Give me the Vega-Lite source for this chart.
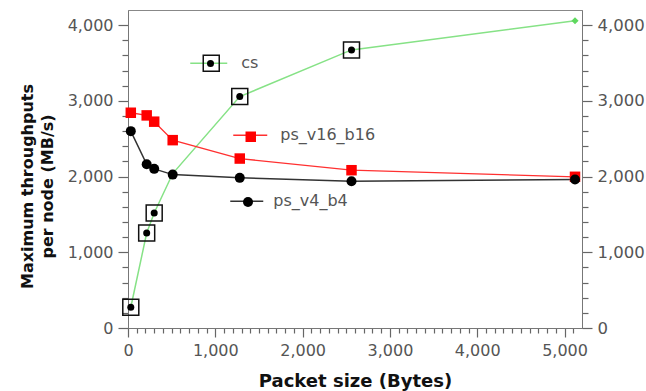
{
  "$schema": "https://vega.github.io/schema/vega-lite/v6.json",
  "autosize": "none",
  "padding": {"left": 128, "top": 10, "right": 64, "bottom": 63},
  "width": 454,
  "height": 318,
  "background": "white",
  "data": {
    "values": [
      {"series": "cs", "size": 32, "tput": 274},
      {"series": "cs", "size": 214, "tput": 1254},
      {"series": "cs", "size": 300, "tput": 1519},
      {"series": "cs", "size": 512, "tput": 2040},
      {"series": "cs", "size": 1280, "tput": 3056},
      {"series": "cs", "size": 2560, "tput": 3673},
      {"series": "cs", "size": 5120, "tput": 4057},
      {"series": "ps_v16_b16", "size": 32, "tput": 2843},
      {"series": "ps_v16_b16", "size": 214, "tput": 2808},
      {"series": "ps_v16_b16", "size": 300, "tput": 2725},
      {"series": "ps_v16_b16", "size": 512, "tput": 2481},
      {"series": "ps_v16_b16", "size": 1280, "tput": 2238},
      {"series": "ps_v16_b16", "size": 2560, "tput": 2084},
      {"series": "ps_v16_b16", "size": 5120, "tput": 1997},
      {"series": "ps_v4_b4", "size": 32, "tput": 2600},
      {"series": "ps_v4_b4", "size": 214, "tput": 2163},
      {"series": "ps_v4_b4", "size": 300, "tput": 2102},
      {"series": "ps_v4_b4", "size": 512, "tput": 2026},
      {"series": "ps_v4_b4", "size": 1280, "tput": 1983},
      {"series": "ps_v4_b4", "size": 2560, "tput": 1939},
      {"series": "ps_v4_b4", "size": 5120, "tput": 1961}
    ]
  },
  "resolve": {
    "scale": {"color": "independent"},
    "legend": {"color": "independent"},
    "axis": {"x": "independent", "y": "independent"}
  },
  "layer": [
    {
      "transform": [{"filter": "datum.series === 'cs'"}],
      "mark": {"type": "line", "strokeWidth": 1.5},
      "encoding": {
        "x": {
          "field": "size", "type": "quantitative",
          "scale": {"domain": [0, 5200], "nice": false, "zero": false},
          "axis": {
            "orient": "bottom",
            "title": "Packet size (Bytes)",
            "titleFontSize": 18,
            "tickCount": 200,
            "values": [0,100,200,300,400,500,600,700,800,900,1000,1100,1200,1300,1400,1500,1600,1700,1800,1900,2000,2100,2200,2300,2400,2500,2600,2700,2800,2900,3000,3100,3200,3300,3400,3500,3600,3700,3800,3900,4000,4100,4200,4300,4400,4500,4600,4700,4800,4900,5000,5100],
            "labelExpr": "datum.value % 1000 === 0 ? format(datum.value, ',d') : ''",
            "tickSize": {"condition": {"test": "datum.value % 1000 === 0", "value": 9}, "value": 5},
            "labelPadding": 5,
            "labelFlush": false,
            "labelOverlap": false,
            "titlePadding": 14
          }
        },
        "y": {
          "field": "tput", "type": "quantitative",
          "scale": {"domain": [0, 4200], "nice": false, "zero": false},
          "axis": {
            "orient": "left",
            "title": ["Maximum throughputs", "per node (MB/s)"],
            "titleFontSize": 16,
            "titleLineHeight": 20,
            "titleY": 176,
            "tickCount": 200,
            "values": [0,200,400,600,800,1000,1200,1400,1600,1800,2000,2200,2400,2600,2800,3000,3200,3400,3600,3800,4000],
            "labelExpr": "datum.value % 1000 === 0 ? format(datum.value, ',d') : ''",
            "tickSize": {"condition": {"test": "datum.value % 1000 === 0", "value": 10}, "value": 6},
            "labelPadding": 5,
            "labelFlush": false,
            "labelOverlap": false,
            "titlePadding": 12
          }
        },
        "color": {
          "field": "series", "type": "nominal",
          "scale": {"domain": ["cs"], "range": ["#86e286"]},
          "legend": {
            "orient": "none", "legendX": 61.25, "legendY": 33.75, "title": null,
            "symbolType": "stroke", "symbolSize": 1369, "symbolStrokeWidth": 1.5,
            "labelOffset": 13, "labelFontSize": 16, "labelColor": "#555", "padding": 0
          }
        }
      }
    },
    {
      "transform": [{"filter": "datum.series === 'ps_v16_b16'"}],
      "mark": {"type": "line", "strokeWidth": 1.3},
      "encoding": {
        "x": {"field": "size", "type": "quantitative", "scale": {"domain": [0, 5200], "nice": false, "zero": false}, "axis": null},
        "y": {
          "field": "tput", "type": "quantitative",
          "scale": {"domain": [0, 4200], "nice": false, "zero": false},
          "axis": {
            "orient": "right",
            "title": null,
            "tickCount": 200,
            "values": [0,200,400,600,800,1000,1200,1400,1600,1800,2000,2200,2400,2600,2800,3000,3200,3400,3600,3800,4000],
            "labelExpr": "datum.value % 1000 === 0 ? format(datum.value, ',d') : ''",
            "tickSize": {"condition": {"test": "datum.value % 1000 === 0", "value": 10}, "value": 6},
            "labelPadding": 5,
            "labelFontSize": 16.5,
            "labelFlush": false,
            "labelOverlap": false
          }
        },
        "color": {
          "field": "series", "type": "nominal",
          "scale": {"domain": ["ps_v16_b16"], "range": ["#ff3030"]},
          "legend": {
            "orient": "none", "legendX": 104.25, "legendY": 107.25, "title": null,
            "symbolType": "stroke", "symbolSize": 1156, "symbolStrokeWidth": 1.5,
            "labelOffset": 12, "labelFontSize": 16, "labelColor": "#555", "padding": 0
          }
        }
      }
    },
    {
      "transform": [{"filter": "datum.series === 'ps_v4_b4'"}],
      "mark": {"type": "line", "strokeWidth": 1.5},
      "encoding": {
        "x": {"field": "size", "type": "quantitative", "axis": null},
        "y": {"field": "tput", "type": "quantitative", "axis": null},
        "color": {
          "field": "series", "type": "nominal",
          "scale": {"domain": ["ps_v4_b4"], "range": ["#333333"]},
          "legend": {
            "orient": "none", "legendX": 101.25, "legendY": 173.75, "title": null,
            "symbolType": "stroke", "symbolSize": 1089, "symbolStrokeWidth": 1.5,
            "labelOffset": 9, "labelFontSize": 16, "labelColor": "#555", "padding": 0
          }
        }
      }
    },
    {
      "transform": [{"filter": "datum.series === 'cs' && datum.size !== 512 && datum.size !== 5120"}],
      "mark": {"type": "point", "shape": "square", "filled": false, "size": 256, "strokeWidth": 1.5, "opacity": 1},
      "encoding": {
        "x": {"field": "size", "type": "quantitative", "axis": null},
        "y": {"field": "tput", "type": "quantitative", "axis": null},
        "color": {
          "field": "series", "type": "nominal",
          "scale": {"domain": ["cs"], "range": ["#111111"]},
          "legend": {
            "orient": "none", "legendX": 74.25, "legendY": 44.25, "title": null,
            "symbolType": "square", "symbolSize": 256, "symbolStrokeWidth": 1.5,
            "labelExpr": "''", "padding": 0
          }
        }
      }
    },
    {
      "transform": [{"filter": "datum.series === 'cs' && datum.size !== 512 && datum.size !== 5120"}],
      "mark": {"type": "point", "shape": "circle", "filled": true, "size": 49, "opacity": 1},
      "encoding": {
        "x": {"field": "size", "type": "quantitative", "axis": null},
        "y": {"field": "tput", "type": "quantitative", "axis": null},
        "color": {
          "field": "series", "type": "nominal",
          "scale": {"domain": ["cs"], "range": ["#000000"]},
          "legend": {
            "orient": "none", "legendX": 74.5, "legendY": 45.5, "title": null,
            "symbolType": "circle", "symbolSize": 49, "symbolStrokeWidth": 0,
            "labelExpr": "''", "padding": 0
          }
        }
      }
    },
    {
      "transform": [{"filter": "datum.series === 'cs' && datum.size === 5120"}],
      "mark": {"type": "point", "shape": "diamond", "filled": true, "size": 50, "opacity": 1},
      "encoding": {
        "x": {"field": "size", "type": "quantitative", "axis": null},
        "y": {"field": "tput", "type": "quantitative", "axis": null},
        "color": {
          "field": "series", "type": "nominal",
          "scale": {"domain": ["cs"], "range": ["#5fd85f"]},
          "legend": null
        }
      }
    },
    {
      "transform": [{"filter": "datum.series === 'ps_v16_b16'"}],
      "mark": {"type": "point", "shape": "square", "filled": true, "size": 110, "opacity": 1},
      "encoding": {
        "x": {"field": "size", "type": "quantitative", "axis": null},
        "y": {"field": "tput", "type": "quantitative", "axis": null},
        "color": {
          "field": "series", "type": "nominal",
          "scale": {"domain": ["ps_v16_b16"], "range": ["#ff0000"]},
          "legend": {
            "orient": "none", "legendX": 114.75, "legendY": 118.75, "title": null,
            "symbolType": "square", "symbolSize": 110, "symbolStrokeWidth": 0,
            "labelExpr": "''", "padding": 0
          }
        }
      }
    },
    {
      "transform": [{"filter": "datum.series === 'ps_v4_b4'"}],
      "mark": {"type": "point", "shape": "circle", "filled": true, "size": 100, "opacity": 1},
      "encoding": {
        "x": {"field": "size", "type": "quantitative", "axis": null},
        "y": {"field": "tput", "type": "quantitative", "axis": null},
        "color": {
          "field": "series", "type": "nominal",
          "scale": {"domain": ["ps_v4_b4"], "range": ["#000000"]},
          "legend": {
            "orient": "none", "legendX": 112, "legendY": 184, "title": null,
            "symbolType": "circle", "symbolSize": 100, "symbolStrokeWidth": 0,
            "labelExpr": "''", "padding": 0
          }
        }
      }
    }
  ],
  "config": {
    "view": {"stroke": "#888888", "strokeWidth": 1},
    "axis": {
      "grid": false,
      "domainColor": "#777777",
      "tickColor": "#666666",
      "tickWidth": 1.2,
      "labelColor": "#555555",
      "labelFont": "DejaVu Sans",
      "labelFontSize": 16,
      "titleFont": "DejaVu Sans",
      "titleFontSize": 17,
      "titleFontWeight": "bold",
      "titleColor": "#111111"
    },
    "legend": {
      "labelFont": "DejaVu Sans",
      "labelFontSize": 16,
      "labelColor": "#555555",
      "padding": 0
    }
  }
}
